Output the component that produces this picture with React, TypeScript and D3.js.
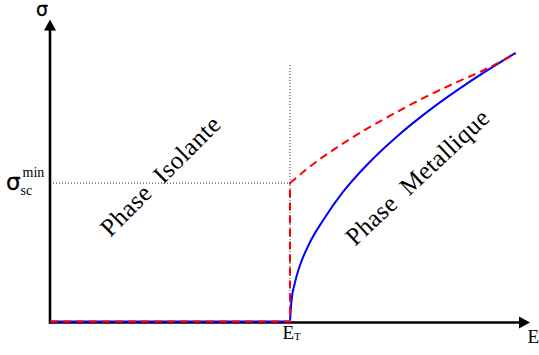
import React from "react";
import * as d3 from "d3";

// Data (E, sigma in arbitrary units 0..100)
const E_T = 50;
const SIGMA_MIN = 46;
const DOTTED_TOP = 85;
const blueFlatE = [0, 50];
const blueFlatS = [0.3, 0.3];
const blueE = [50, 50.3, 51, 52, 54, 57, 61, 66, 72, 79, 87, 97];
const blueS = [0.3, 7, 13, 18.5, 26, 34, 43, 52, 61, 70, 79, 89];
const redStepE = [0, 50, 50];
const redStepS = [0.3, 0.3, 46];
const redE = [50, 55, 60, 65, 70, 75, 80, 85, 90, 97];
const redS = [46, 52.5, 58, 63, 67.5, 71.8, 75.8, 79.5, 83, 88.7];

const W = 539;
const H = 355;

export default function App() {
  const x = d3.scaleLinear().domain([0, 100]).range([50, 530]);
  const y = d3.scaleLinear().domain([0, 100]).range([322.5, 19.5]);

  const zip = (a: number[], b: number[]) => a.map((v, i) => [v, b[i]] as [number, number]);
  const lin = d3.line<[number, number]>().x((d) => x(d[0])).y((d) => y(d[1]));
  const mono = d3
    .line<[number, number]>()
    .x((d) => x(d[0]))
    .y((d) => y(d[1]))
    .curve(d3.curveMonotoneX);

  const x0 = x(0);
  const y0 = y(0);
  const xEnd = x(100);
  const yEnd = y(100);
  const serif = "'Liberation Serif', 'DejaVu Serif', serif";
  const sans = "'DejaVu Sans', sans-serif";

  const tx1 = x(24.2);
  const ty1 = y(46.4);
  const tx2 = x(77.7);
  const ty2 = y(45.9);

  return (
    <svg
      width={W}
      height={H}
      style={{ position: "absolute", left: 0, top: 0, background: "#fff" }}
    >
      {/* dotted guides */}
      <line
        x1={x(E_T)}
        x2={x(E_T)}
        y1={y(DOTTED_TOP)}
        y2={y0}
        stroke="#333"
        strokeWidth={1}
        strokeDasharray="1,2"
      />
      <line
        x1={x0}
        x2={x(E_T)}
        y1={y(SIGMA_MIN)}
        y2={y(SIGMA_MIN)}
        stroke="#333"
        strokeWidth={1}
        strokeDasharray="1,2"
      />

      {/* axes */}
      <line x1={x0} x2={xEnd - 8} y1={y0} y2={y0} stroke="#000" strokeWidth={2.6} />
      <line x1={x0} x2={x0} y1={y0 + 1.3} y2={yEnd + 8} stroke="#000" strokeWidth={2.6} />
      <path
        d={`M${xEnd},${y0} L${xEnd - 11},${y0 - 6} L${xEnd - 11},${y0 + 6} Z`}
        fill="#000"
      />
      <path
        d={`M${x0},${yEnd} L${x0 - 6},${yEnd + 11} L${x0 + 6},${yEnd + 11} Z`}
        fill="#000"
      />

      {/* curves */}
      <path d={lin(zip(blueFlatE, blueFlatS)) || ""} fill="none" stroke="#0000ff" strokeWidth={2} />
      <path d={mono(zip(blueE, blueS)) || ""} fill="none" stroke="#0000ff" strokeWidth={2} />
      <path
        d={lin(zip(redStepE, redStepS)) || ""}
        fill="none"
        stroke="#ff0000"
        strokeWidth={2}
        strokeDasharray="8,5"
      />
      <path
        d={mono(zip(redE, redS)) || ""}
        fill="none"
        stroke="#ff0000"
        strokeWidth={2}
        strokeDasharray="8,5"
      />

      {/* labels */}
      <text x={42} y={16} fontFamily={sans} fontSize={19} textAnchor="middle" stroke="#000" strokeWidth={0.3}>
        σ
      </text>
      <text x={527.5} y={343} fontFamily={serif} fontSize={19}>
        E
      </text>
      <text x={282.5} y={338.5} fontFamily={serif} fontSize={19}>
        E
        <tspan fontSize={11} dy={1}>
          T
        </tspan>
      </text>
      <text x={6} y={190} fontFamily={sans} fontSize={23} stroke="#000" strokeWidth={0.3}>
        σ
      </text>
      <text x={20.5} y={195} fontFamily={serif} fontSize={14}>
        sc
      </text>
      <text x={22.5} y={177} fontFamily={serif} fontSize={14}>
        min
      </text>

      <text
        x={tx1}
        y={ty1}
        fontFamily={serif}
        fontSize={25}
        textAnchor="middle"
        textLength={158}
        lengthAdjust="spacing"
        transform={`rotate(-45 ${tx1} ${ty1})`}
        style={{ whiteSpace: "pre" }}
      >
        {"Phase  Isolante"}
      </text>
      <text
        x={tx2}
        y={ty2}
        fontFamily={serif}
        fontSize={25}
        textAnchor="middle"
        textLength={186}
        lengthAdjust="spacing"
        transform={`rotate(-43 ${tx2} ${ty2})`}
        style={{ whiteSpace: "pre" }}
      >
        {"Phase  Metallique"}
      </text>
    </svg>
  );
}
